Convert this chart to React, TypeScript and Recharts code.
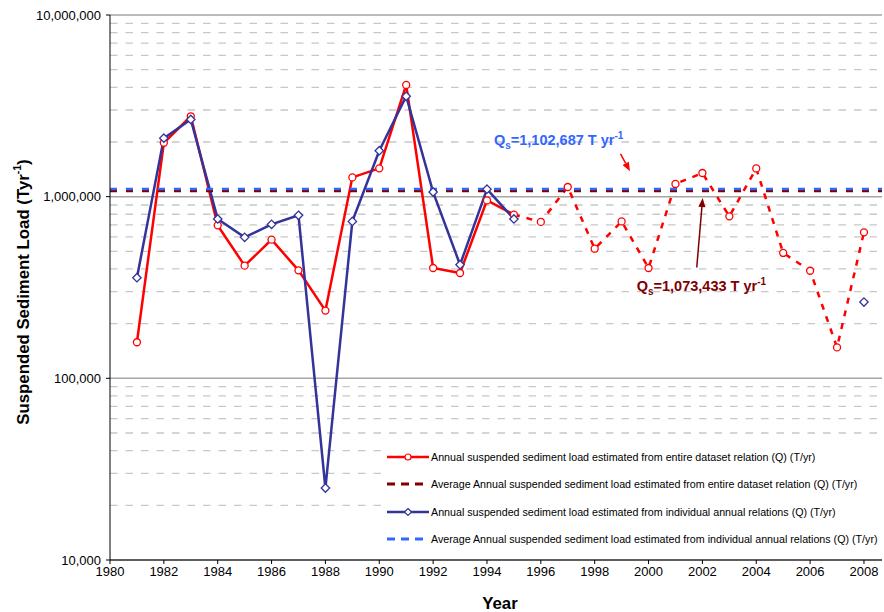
import React from 'react';
import {
  LineChart,
  Line,
  XAxis,
  YAxis,
  ReferenceLine,
  ReferenceDot,
  Legend,
} from 'recharts';

// ---------- data ----------
const years = [
  1981, 1982, 1983, 1984, 1985, 1986, 1987, 1988, 1989, 1990, 1991, 1992, 1993, 1994,
  1995, 1996, 1997, 1998, 1999, 2000, 2001, 2002, 2003, 2004, 2005, 2006, 2007, 2008,
];
const entireDatasetLoad = [
  158000, 1980000, 2770000, 695000, 417000, 580000, 393000, 236000, 1277000, 1432000,
  4120000, 405000, 380000, 954000, 796000, 726000, 1130000, 517000, 731000, 405000,
  1175000, 1350000, 779000, 1430000, 490000, 391000, 148000, 636000,
];
const individualAnnualLoad: (number | null)[] = [
  358000, 2100000, 2660000, 754000, 597000, 704000, 790000, 24900, 731000, 1790000,
  3570000, 1060000, 422000, 1100000, 754000, null, null, null, null, null,
  null, null, null, null, null, null, null, 263000,
];
const avgEntireDataset = 1073433;
const avgIndividualAnnual = 1102687;
const lastObservedYear = 1995;
const yTicks = [10000, 100000, 1000000, 10000000];
const xTicks = [1980, 1982, 1984, 1986, 1988, 1990, 1992, 1994, 1996, 1998, 2000, 2002, 2004, 2006, 2008];
const legendLabels = [
  'Annual suspended sediment load estimated from entire dataset relation (Q) (T/yr)',
  'Average Annual suspended sediment load estimated from entire dataset relation (Q) (T/yr)',
  'Annual suspended sediment load estimated from individual annual relations (Q) (T/yr)',
  'Average Annual suspended sediment load estimated from individual annual relations (Q) (T/yr)',
];

// ---------- styles ----------
const FONT = "Arial, 'Liberation Sans', sans-serif";
const RED = '#FF0000';
const NAVY = '#333399';
const AVG_BLUE = '#3366FF';
const DARK_RED = '#800000';

const rows = years.map((year, i) => ({
  year,
  redSolid: year <= lastObservedYear ? entireDatasetLoad[i] : null,
  redDashed: year >= lastObservedYear ? entireDatasetLoad[i] : null,
  blue: individualAnnualLoad[i],
}));

const minorGrid: number[] = [];
[10000, 100000, 1000000].forEach((d) => {
  for (let m = 2; m <= 9; m++) minorGrid.push(d * m);
});

const RedDot = (props: any) => {
  const { cx, cy, index, payload } = props;
  if (cx == null || cy == null || payload == null || payload.redSolid == null) return <g key={`rd-${index}`} />;
  return <circle key={`rd-${index}`} cx={cx} cy={cy} r={3.5} fill="#fff" stroke={RED} strokeWidth={1.3} />;
};
const RedDashedDot = (props: any) => {
  const { cx, cy, index, payload } = props;
  if (cx == null || cy == null || payload == null || payload.redDashed == null || payload.year === lastObservedYear)
    return <g key={`rdd-${index}`} />;
  return <circle key={`rdd-${index}`} cx={cx} cy={cy} r={3.5} fill="#fff" stroke={RED} strokeWidth={1.3} />;
};
const Diamond = (props: any) => {
  const { cx, cy, index, payload } = props;
  if (cx == null || cy == null || payload == null || payload.blue == null) return <g key={`bd-${index}`} />;
  const s = 4.2;
  return (
    <polygon
      key={`bd-${index}`}
      points={`${cx},${cy - s} ${cx + s},${cy} ${cx},${cy + s} ${cx - s},${cy}`}
      fill="#fff"
      stroke={NAVY}
      strokeWidth={1.3}
    />
  );
};

const arrowShape = (color: string) => (props: any) => {
  const { x1, y1, x2, y2 } = props;
  if ([x1, y1, x2, y2].some((v) => v == null || isNaN(v))) return <g />;
  const dx = x2 - x1;
  const dy = y2 - y1;
  const len = Math.sqrt(dx * dx + dy * dy) || 1;
  const ux = dx / len;
  const uy = dy / len;
  const hl = 9;
  const hw = 3.5;
  const bx = x2 - ux * hl;
  const by = y2 - uy * hl;
  return (
    <g>
      <line x1={x1} y1={y1} x2={bx} y2={by} stroke={color} strokeWidth={1.5} />
      <polygon
        points={`${x2},${y2} ${bx - uy * hw},${by + ux * hw} ${bx + uy * hw},${by - ux * hw}`}
        fill={color}
      />
    </g>
  );
};

const qsText = (color: string, value: string) => (props: any) => {
  const { cx, cy } = props;
  if (cx == null || cy == null) return <g />;
  return (
    <text x={cx} y={cy} fill={color} fontFamily={FONT} fontWeight="bold" fontSize={14.5}>
      <tspan>Q</tspan>
      <tspan fontSize={10} dy={4}>s</tspan>
      <tspan dy={-4}>{`=${value} T yr`}</tspan>
      <tspan fontSize={10} dy={-6}>-1</tspan>
    </text>
  );
};

const renderLegend = () => {
  const samples = [
    { color: RED, dash: undefined, marker: 'circle' },
    { color: DARK_RED, dash: '8 6', marker: null },
    { color: NAVY, dash: undefined, marker: 'diamond' },
    { color: AVG_BLUE, dash: '8 6', marker: null },
  ];
  return (
    <div style={{ fontFamily: FONT, fontSize: 10.7, color: '#000', background: '#fff', paddingLeft: 2 }}>
      {legendLabels.map((label, i) => {
        const s = samples[i];
        return (
          <div key={label} style={{ height: 27.5, display: 'flex', alignItems: 'center' }}>
            <svg width={44} height={12} style={{ flex: 'none' }}>
              <line
                x1={0}
                y1={6}
                x2={42}
                y2={6}
                stroke={s.color}
                strokeWidth={s.dash ? 3 : 2.5}
                strokeDasharray={s.dash}
              />
              {s.marker === 'circle' && <circle cx={21} cy={6} r={3} fill="#fff" stroke={RED} strokeWidth={1.2} />}
              {s.marker === 'diamond' && (
                <polygon points="21,2.5 24.5,6 21,9.5 17.5,6" fill="#fff" stroke={NAVY} strokeWidth={1.2} />
              )}
            </svg>
            <span style={{ whiteSpace: 'nowrap' }}>{label}</span>
          </div>
        );
      })}
    </div>
  );
};

const YTitle = () => (
  <text
    x={23}
    y={292}
    transform="rotate(-90 23 292)"
    textAnchor="middle"
    dominantBaseline="central"
    fontFamily={FONT}
    fontWeight="bold"
    fontSize={16.8}
    fill="#000"
  >
    <tspan>Suspended Sediment Load (Tyr</tspan>
    <tspan fontSize={10.5} dy={-6}>-1</tspan>
    <tspan dy={6}>)</tspan>
  </text>
);

const XTitle = () => (
  <text x={500} y={609} textAnchor="middle" fontFamily={FONT} fontWeight="bold" fontSize={16.8} fill="#000">
    Year
  </text>
);

export default function App() {
  return (
    <div style={{ position: 'absolute', left: 0, top: 0, width: 884, height: 612, background: '#fff' }}>
      <LineChart
        width={884}
        height={612}
        data={rows}
        margin={{ top: 15, right: 2, bottom: 22, left: 10 }}
      >
        {minorGrid.map((v) => (
          <ReferenceLine
            key={`mg-${v}`}
            y={v}
            stroke="#C8C8C8"
            strokeDasharray="7.5 8"
            strokeWidth={1.3}
          />
        ))}
        {yTicks.map((v) => (
          <ReferenceLine key={`Mg-${v}`} y={v} stroke="#A6A6A6" strokeWidth={1.5} />
        ))}
        <XAxis
          type="number"
          dataKey="year"
          domain={[1980, 2008.67]}
          ticks={xTicks}
          allowDataOverflow
          height={30}
          tickSize={4}
          tickMargin={3}
          stroke="#000"
          tick={{ fill: '#000', fontFamily: FONT, fontSize: 13 }}
          label={{ content: XTitle }}
        />
        <YAxis
          type="number"
          scale="log"
          domain={[10000, 10000000]}
          ticks={yTicks}
          allowDataOverflow
          width={100}
          tickSize={4}
          tickMargin={5}
          stroke="#000"
          tickFormatter={(v: number) => v.toLocaleString('en-US')}
          tick={{ fill: '#000', fontFamily: FONT, fontSize: 13 }}
          label={{ content: YTitle }}
        />
        <Line
          dataKey="redSolid"
          stroke={RED}
          strokeWidth={2.5}
          dot={RedDot}
          activeDot={false}
          connectNulls={false}
          isAnimationActive={false}
          legendType="none"
        />
        <Line
          dataKey="redDashed"
          stroke={RED}
          strokeWidth={2.5}
          strokeDasharray="6 7"
          dot={RedDashedDot}
          activeDot={false}
          connectNulls={false}
          isAnimationActive={false}
          legendType="none"
        />
        <Line
          dataKey="blue"
          stroke={NAVY}
          strokeWidth={2.5}
          dot={Diamond}
          activeDot={false}
          connectNulls={false}
          isAnimationActive={false}
          legendType="none"
        />
        <ReferenceLine y={avgEntireDataset} stroke={DARK_RED} strokeWidth={2.5} strokeDasharray="7 9" />
        <ReferenceLine y={avgIndividualAnnual} stroke={AVG_BLUE} strokeWidth={2.5} strokeDasharray="7 9" />
        <ReferenceLine
          segment={[
            { x: 1998.96, y: 1719000 },
            { x: 1999.31, y: 1378000 },
          ]}
          shape={arrowShape(RED)}
        />
        <ReferenceLine
          segment={[
            { x: 2001.79, y: 407700 },
            { x: 2002.01, y: 983600 },
          ]}
          shape={arrowShape(DARK_RED)}
        />
        <ReferenceDot x={1994.26} y={1934000} r={0} shape={qsText(AVG_BLUE, '1,102,687')} />
        <ReferenceDot x={1999.56} y={300700} r={0} shape={qsText(DARK_RED, '1,073,433')} />
        <Legend
          layout="vertical"
          align="center"
          verticalAlign="middle"
          content={renderLegend}
          wrapperStyle={{ position: 'absolute', left: 385, top: 443, width: 499, height: 112, background: '#fff' }}
        />
      </LineChart>
    </div>
  );
}
